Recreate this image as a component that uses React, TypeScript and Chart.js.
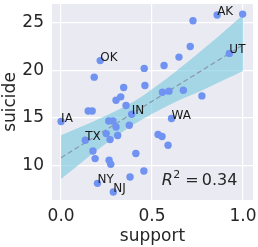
import React, { useEffect, useRef } from "react";
import { Chart, registerables } from "chart.js";

Chart.register(...registerables);

// ---- data ----
const supportVals = [
  0.0, 0.133, 0.149, 0.171, 0.175, 0.182, 0.187, 0.2, 0.215, 0.248, 0.262,
  0.285, 0.264, 0.269, 0.273, 0.287, 0.302, 0.302, 0.311, 0.328, 0.344, 0.357,
  0.375, 0.379, 0.388, 0.411, 0.455, 0.457, 0.461, 0.533, 0.555, 0.557, 0.566,
  0.588, 0.593, 0.607, 0.648, 0.672, 0.71, 0.725, 0.774, 0.858, 0.925, 0.998,
];
const suicideVals = [
  14.6, 12.63, 15.7, 15.7, 11.5, 19.26, 10.7, 8.1, 21.0, 13.33, 14.66, 14.66,
  10.53, 12.7, 10.1, 7.19, 16.84, 14.03, 13.13, 17.19, 18.18, 16.28, 14.21,
  8.77, 15.37, 11.23, 9.4, 20.18, 18.39, 13.23, 13.02, 17.68, 20.49, 12.11,
  17.79, 14.91, 21.37, 17.89, 22.49, 25.19, 17.29, 25.79, 21.76, 25.89,
];
const stateLabels = [
  "IA", "TX", "", "", "", "", "", "NY", "OK", "", "", "", "", "", "", "NJ", "",
  "", "", "", "", "", "", "", "IN", "", "", "", "", "", "", "", "", "", "",
  "WA", "", "", "", "", "", "AK", "UT", "",
];
const xTicks = [0, 0.5, 1.0];
const yTicks = [10, 15, 20, 25];
const fitX = [0, 1];
const fitY = [10.8, 22.65];
const bandX = [0, 0.2, 0.4, 0.6, 0.8, 1.0];
const bandUpper = [13.15, 14.8, 16.7, 19.4, 22.5, 25.8];
const bandLower = [8.55, 11.6, 14.3, 16.4, 18.1, 19.9];
const r2Value = "0.34";

const FONT = "'DejaVu Sans'";
const TEXT = "#262626";

const bgPlugin = {
  id: "bgPlugin",
  beforeDraw(chart: any) {
    const { ctx, chartArea: a } = chart;
    ctx.save();
    ctx.fillStyle = "#EAEAF2";
    ctx.fillRect(a.left, a.top, a.right - a.left, a.bottom - a.top);
    ctx.restore();
  },
};

const labelPlugin = {
  id: "labelPlugin",
  afterDatasetsDraw(chart: any) {
    const { ctx, chartArea: a } = chart;
    const xs = chart.scales.x;
    const ys = chart.scales.y;
    ctx.save();
    ctx.fillStyle = "#1a1a1a";
    ctx.font = `12px ${FONT}`;
    ctx.textAlign = "left";
    ctx.textBaseline = "alphabetic";
    stateLabels.forEach((lab, i) => {
      if (!lab) return;
      ctx.fillText(lab, xs.getPixelForValue(supportVals[i]), ys.getPixelForValue(suicideVals[i]));
    });
    // R^2 annotation in axes fraction
    let x = a.left + 0.546 * (a.right - a.left);
    const y = a.bottom - 0.078 * (a.bottom - a.top);
    ctx.fillStyle = TEXT;
    ctx.font = `italic 16px ${FONT}`;
    ctx.fillText("R", x, y);
    x += ctx.measureText("R").width + 0.5;
    ctx.font = `11px ${FONT}`;
    ctx.fillText("2", x, y - 7);
    x += ctx.measureText("2").width + 5;
    ctx.font = `16px ${FONT}`;
    ctx.fillText("=", x, y);
    x += ctx.measureText("=").width + 3;
    ctx.fillText(r2Value, x, y);
    ctx.restore();
  },
};

export default function App() {
  const ref = useRef<HTMLCanvasElement>(null);
  useEffect(() => {
    if (!ref.current) return;
    const chart = new Chart(ref.current, {
      type: "scatter",
      data: {
        datasets: [
          {
            type: "scatter",
            data: supportVals.map((v, i) => ({ x: v, y: suicideVals[i] })),
            backgroundColor: "#7093F2",
            borderWidth: 0,
            pointRadius: 3.7,
          } as any,
          {
            type: "line",
            data: fitX.map((v, i) => ({ x: v, y: fitY[i] })),
            borderColor: "rgba(130,140,160,0.85)",
            borderDash: [5, 3],
            borderWidth: 1.2,
            pointRadius: 0,
            showLine: true,
            fill: false,
          } as any,
          {
            type: "line",
            data: bandX.map((v, i) => ({ x: v, y: bandLower[i] })),
            borderColor: "rgba(0,0,0,0)",
            borderWidth: 0,
            pointRadius: 0,
            showLine: true,
            fill: false,
            tension: 0.3,
          } as any,
          {
            type: "line",
            data: bandX.map((v, i) => ({ x: v, y: bandUpper[i] })),
            borderColor: "rgba(0,0,0,0)",
            borderWidth: 0,
            pointRadius: 0,
            showLine: true,
            fill: "-1",
            backgroundColor: "rgba(118,200,222,0.6)",
            tension: 0.3,
          } as any,
        ],
      },
      options: {
        animation: false,
        responsive: false,
        maintainAspectRatio: false,
        layout: { padding: { top: 4, right: 5, left: 0, bottom: 0 } },
        plugins: { legend: { display: false }, tooltip: { enabled: false } },
        scales: {
          x: {
            type: "linear",
            min: -0.05,
            max: 1.055,
            afterBuildTicks: (s: any) => {
              s.ticks = xTicks.map((v) => ({ value: v }));
            },
            afterFit: (s: any) => {
              s.height = 47;
              s.paddingLeft = 0;
              s.paddingRight = 0;
            },
            ticks: {
              callback: (v: any) => Number(v).toFixed(1),
              font: { family: FONT, size: 17 },
              color: TEXT,
              padding: 6,
              maxRotation: 0,
              autoSkip: false,
            },
            grid: { color: "#ffffff", lineWidth: 1.2, drawTicks: false },
            border: { display: false },
            title: {
              display: true,
              text: "support",
              font: { family: FONT, size: 17 },
              color: TEXT,
              padding: 0,
            },
          },
          y: {
            type: "linear",
            min: 6.35,
            max: 26.95,
            afterBuildTicks: (s: any) => {
              s.ticks = yTicks.map((v) => ({ value: v }));
            },
            afterFit: (s: any) => {
              s.width = 52;
              s.paddingTop = 0;
              s.paddingBottom = 0;
            },
            ticks: {
              callback: (v: any) => String(v),
              font: { family: FONT, size: 17 },
              color: TEXT,
              padding: 8,
              autoSkip: false,
            },
            grid: { color: "#ffffff", lineWidth: 1.2, drawTicks: false },
            border: { display: false },
            title: {
              display: true,
              text: "suicide",
              font: { family: FONT, size: 17 },
              color: TEXT,
              padding: 0,
            },
          },
        },
      } as any,
      plugins: [bgPlugin, labelPlugin],
    });
    return () => chart.destroy();
  }, []);
  return (
    <div style={{ position: "fixed", left: 0, top: 0, width: 258, height: 247, background: "#fff" }}>
      <canvas ref={ref} width={258} height={247} style={{ display: "block", width: 258, height: 247 }} />
    </div>
  );
}
